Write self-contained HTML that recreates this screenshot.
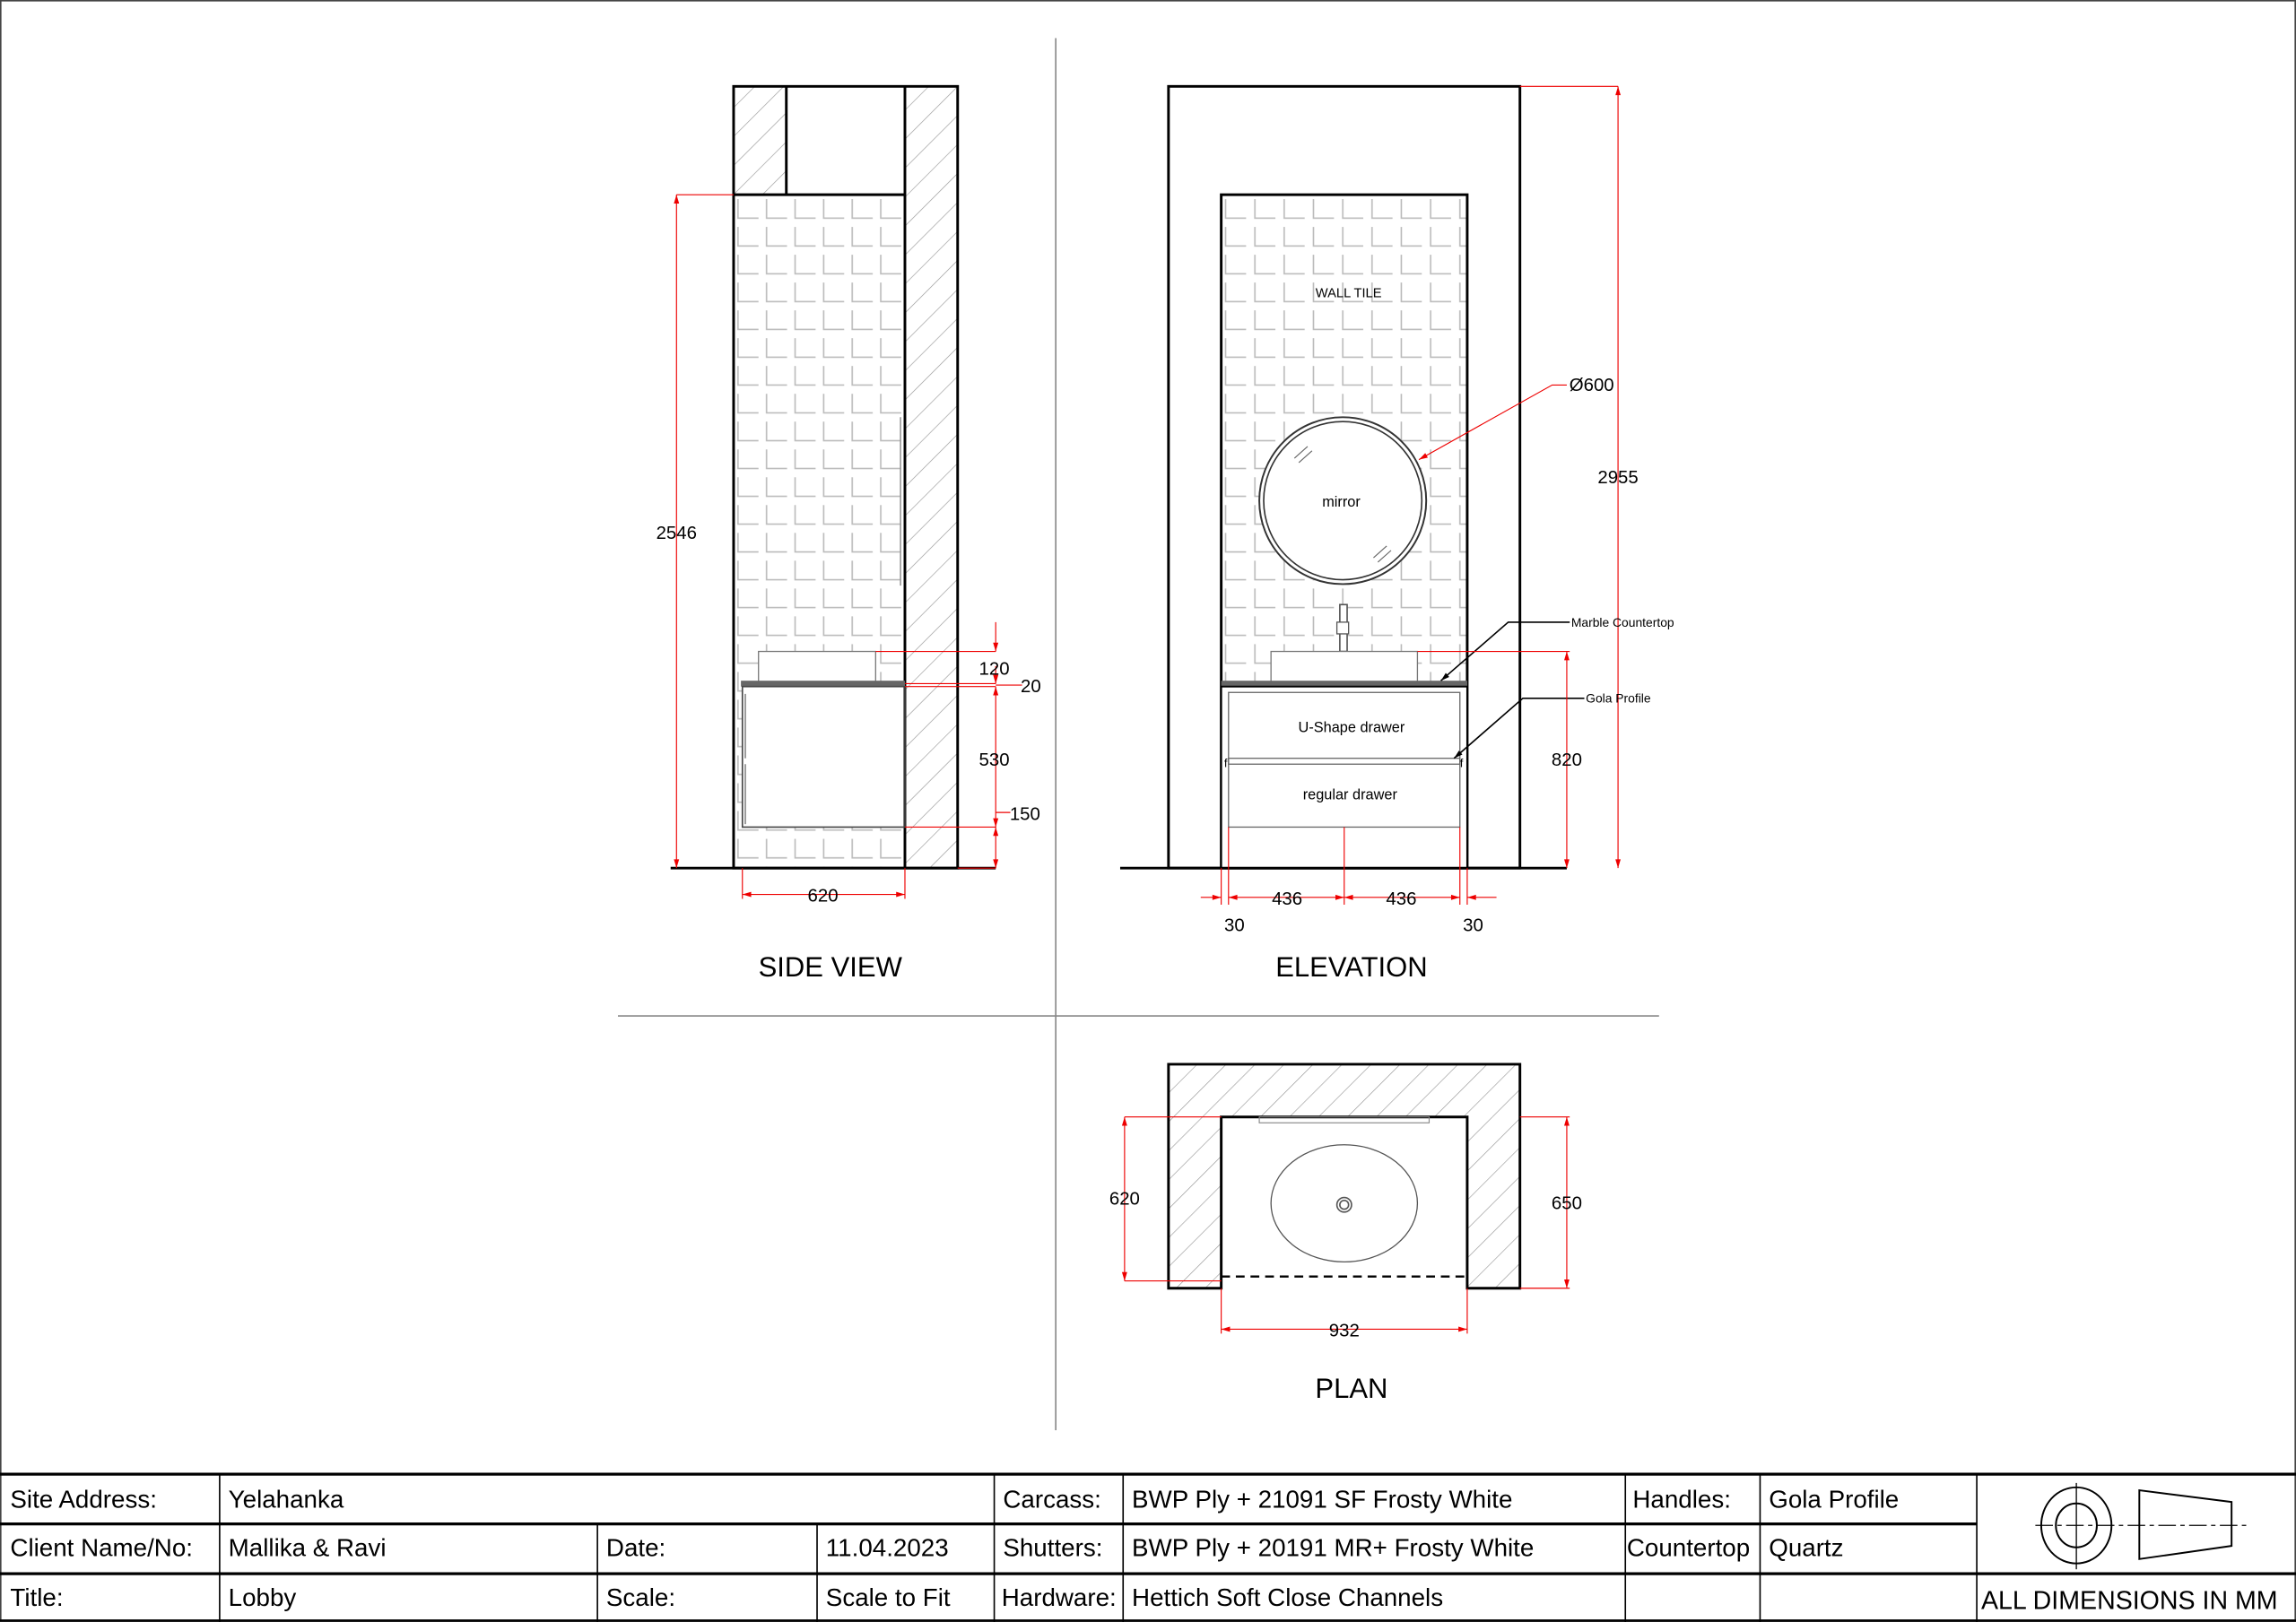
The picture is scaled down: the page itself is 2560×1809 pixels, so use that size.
<!DOCTYPE html>
<html><head><meta charset="utf-8"><style>
html,body{margin:0;padding:0;background:#fff}
svg{display:block}
text{font-family:"Liberation Sans",Arial,sans-serif}
</style></head><body>
<svg width="2560" height="1809" viewBox="0 0 1568 1108" preserveAspectRatio="none" xmlns="http://www.w3.org/2000/svg">
<defs>
<pattern id="hatch" width="14" height="14" patternUnits="userSpaceOnUse" patternTransform="rotate(45)">
<line x1="0" y1="0" x2="0" y2="14" stroke="#999" stroke-width="0.8"/>
</pattern>
<pattern id="tile" x="501" y="133" width="19.5" height="19" patternUnits="userSpaceOnUse">
<path d="M3 3 V16 H17" fill="none" stroke="#bbb" stroke-width="1"/>
</pattern>
<pattern id="tile2" x="834" y="133" width="20" height="19" patternUnits="userSpaceOnUse">
<path d="M3 3 V16 H17" fill="none" stroke="#bbb" stroke-width="1"/>
</pattern>
<marker id="ar" viewBox="0 0 10 10" refX="10" refY="5" markerWidth="10" markerHeight="6" markerUnits="userSpaceOnUse" orient="auto-start-reverse"><path d="M0 2 L10 5 L0 8z" fill="#e00"/></marker>
<marker id="ak" viewBox="0 0 10 10" refX="10" refY="5" markerWidth="10" markerHeight="6" markerUnits="userSpaceOnUse" orient="auto"><path d="M0 2 L10 5 L0 8z" fill="#000"/></marker>
</defs>
<rect x="0.5" y="0.5" width="1567" height="1107" fill="none" stroke="#444" stroke-width="1"/>

<line x1="721" y1="26" x2="721" y2="977" stroke="#888" stroke-width="1"/>
<line x1="422" y1="694" x2="1133" y2="694" stroke="#888" stroke-width="1"/>

<!-- SIDE VIEW -->
<rect x="501" y="59" width="36" height="74" fill="url(#hatch)"/>
<rect x="618" y="59" width="36" height="534" fill="url(#hatch)"/>
<rect x="501" y="133" width="117" height="460" fill="url(#tile)"/>
<rect x="507" y="469" width="111" height="96" fill="#fff"/>
<rect x="501" y="59" width="153" height="534" fill="none" stroke="#000" stroke-width="1.8"/>
<line x1="537" y1="59" x2="537" y2="133" stroke="#000" stroke-width="1.8"/>
<line x1="501" y1="133" x2="618" y2="133" stroke="#000" stroke-width="1.8"/>
<line x1="618" y1="59" x2="618" y2="593" stroke="#000" stroke-width="1.8"/>
<line x1="615" y1="285" x2="615" y2="400" stroke="#999" stroke-width="1"/>
<rect x="518" y="445" width="80" height="22" fill="#fff" stroke="#777" stroke-width="0.8"/>
<rect x="506" y="465" width="112" height="4" fill="#666"/>
<rect x="507" y="469" width="111" height="96" fill="none" stroke="#444" stroke-width="1"/>
<line x1="509" y1="474" x2="509" y2="518" stroke="#888"/><line x1="509" y1="522" x2="509" y2="563" stroke="#888"/>
<line x1="458" y1="593" x2="680" y2="593" stroke="#000" stroke-width="1.8"/>
<g stroke="#e00" stroke-width="0.7" fill="none">
<line x1="462" y1="133" x2="501" y2="133"/>
<line x1="462" y1="133" x2="462" y2="593" marker-start="url(#ar)" marker-end="url(#ar)"/>
<line x1="598" y1="445" x2="680" y2="445"/><line x1="618" y1="467" x2="680" y2="467"/><line x1="618" y1="469" x2="680" y2="469"/><line x1="618" y1="565" x2="680" y2="565"/><line x1="654" y1="593" x2="680" y2="593"/>
<line x1="680" y1="425" x2="680" y2="445" marker-end="url(#ar)"/>
<line x1="680" y1="469" x2="680" y2="565" marker-start="url(#ar)" marker-end="url(#ar)"/>
<line x1="680" y1="565" x2="680" y2="593" marker-start="url(#ar)" marker-end="url(#ar)"/>
<line x1="680" y1="455" x2="680" y2="467" marker-end="url(#ar)"/>
<line x1="507" y1="593" x2="507" y2="614"/><line x1="618" y1="593" x2="618" y2="614"/>
<line x1="507" y1="611" x2="618" y2="611" marker-start="url(#ar)" marker-end="url(#ar)"/>
<line x1="680" y1="468" x2="698" y2="468"/><line x1="680" y1="555" x2="690" y2="555"/>
</g>
<g font-size="12.5" fill="#000">
<text x="462" y="368" text-anchor="middle">2546</text>
<text x="679" y="461" text-anchor="middle">120</text>
<text x="704" y="473" text-anchor="middle">20</text>
<text x="679" y="523" text-anchor="middle">530</text>
<text x="700" y="560" text-anchor="middle">150</text>
<text x="562" y="616" text-anchor="middle">620</text>
</g>
<text x="567" y="667" font-size="19" text-anchor="middle">SIDE VIEW</text>

<!-- ELEVATION -->
<rect x="834" y="133" width="168" height="460" fill="url(#tile2)"/>
<rect x="798" y="59" width="240" height="534" fill="none" stroke="#000" stroke-width="1.8"/>
<rect x="834" y="133" width="168" height="460" fill="none" stroke="#000" stroke-width="1.8"/>
<circle cx="917" cy="342" r="57" fill="#fff" stroke="#333" stroke-width="1.2"/>
<circle cx="917" cy="342" r="54" fill="none" stroke="#333" stroke-width="1"/>
<g stroke="#666" stroke-width="0.7"><line x1="884" y1="313" x2="893" y2="305"/><line x1="887" y1="316" x2="896" y2="308"/><line x1="938" y1="381" x2="947" y2="373"/><line x1="941" y1="384" x2="950" y2="376"/></g>
<text x="916" y="346" font-size="10" text-anchor="middle">mirror</text>
<text x="921" y="203" font-size="9" text-anchor="middle">WALL TILE</text>
<rect x="915" y="413" width="5" height="32" fill="#fff" stroke="#555"/>
<rect x="913" y="425" width="8" height="8" fill="#fff" stroke="#555" stroke-width="0.8"/>
<rect x="868" y="445" width="100" height="21" fill="#fff" stroke="#777" stroke-width="0.8"/>
<rect x="834" y="465" width="168" height="4" fill="#666"/>
<rect x="834" y="469" width="168" height="124" fill="#fff" stroke="#000" stroke-width="1.2"/>
<rect x="839" y="473" width="158" height="92" fill="none" stroke="#666" stroke-width="0.8"/>
<rect x="839" y="518" width="158" height="4" fill="none" stroke="#666" stroke-width="0.8"/>
<text x="923" y="500" font-size="10" text-anchor="middle">U-Shape drawer</text>
<text x="922" y="546" font-size="10" text-anchor="middle">regular drawer</text>
<text x="836" y="524" font-size="8">f</text><text x="997" y="524" font-size="8">f</text>
<line x1="765" y1="593" x2="1070" y2="593" stroke="#000" stroke-width="1.8"/>
<g stroke="#000" stroke-width="1" fill="none">
<polyline points="1072,425 1030,425 984,465" marker-end="url(#ak)"/>
<polyline points="1082,477 1040,477 993,518" marker-end="url(#ak)"/>
</g>
<g stroke="#e00" stroke-width="0.7" fill="none">
<line x1="1038" y1="59" x2="1105" y2="59"/>
<line x1="1105" y1="59" x2="1105" y2="593" marker-start="url(#ar)" marker-end="url(#ar)"/>
<line x1="968" y1="445" x2="1072" y2="445"/>
<line x1="1070" y1="445" x2="1070" y2="593" marker-start="url(#ar)" marker-end="url(#ar)"/>
<polyline points="1070,263 1060,263 969,314" marker-end="url(#ar)"/>
<line x1="839" y1="565" x2="839" y2="618"/><line x1="997" y1="565" x2="997" y2="618"/><line x1="918" y1="565" x2="918" y2="618"/>
<line x1="834" y1="593" x2="834" y2="618"/><line x1="1002" y1="593" x2="1002" y2="618"/>
<line x1="820" y1="613" x2="834" y2="613" marker-end="url(#ar)"/>
<line x1="839" y1="613" x2="918" y2="613" marker-start="url(#ar)" marker-end="url(#ar)"/>
<line x1="918" y1="613" x2="997" y2="613" marker-start="url(#ar)" marker-end="url(#ar)"/>
<line x1="1022" y1="613" x2="1002" y2="613" marker-end="url(#ar)"/>
</g>
<g font-size="12.5" fill="#000">
<text x="1087" y="267" text-anchor="middle">Ø600</text>
<text x="1105" y="330" text-anchor="middle">2955</text>
<text x="1070" y="523" text-anchor="middle">820</text>
<text x="879" y="618" text-anchor="middle">436</text>
<text x="957" y="618" text-anchor="middle">436</text>
<text x="843" y="636" text-anchor="middle">30</text>
<text x="1006" y="636" text-anchor="middle">30</text>
</g>
<text x="1073" y="428" font-size="8.5">Marble Countertop</text>
<text x="1083" y="480" font-size="8.5">Gola Profile</text>
<text x="923" y="667" font-size="19" text-anchor="middle">ELEVATION</text>

<!-- PLAN -->
<rect x="798" y="727" width="240" height="36" fill="url(#hatch)"/>
<rect x="798" y="763" width="36" height="117" fill="url(#hatch)"/>
<rect x="1002" y="763" width="36" height="117" fill="url(#hatch)"/>
<path d="M798 727 H1038 V880 H1002 V763 H834 V880 H798 Z" fill="none" stroke="#000" stroke-width="1.8"/>
<line x1="834" y1="872" x2="1002" y2="872" stroke="#000" stroke-width="1.5" stroke-dasharray="6,4"/>
<rect x="860" y="763" width="116" height="4" fill="none" stroke="#888" stroke-width="0.7"/>
<ellipse cx="918" cy="822" rx="50" ry="40" fill="none" stroke="#555" stroke-width="0.8"/>
<circle cx="918" cy="823" r="5" fill="none" stroke="#555"/><circle cx="918" cy="823" r="3" fill="none" stroke="#555"/>
<g stroke="#e00" stroke-width="0.7" fill="none">
<line x1="768" y1="763" x2="834" y2="763"/><line x1="768" y1="875" x2="834" y2="875"/>
<line x1="768" y1="763" x2="768" y2="875" marker-start="url(#ar)" marker-end="url(#ar)"/>
<line x1="1038" y1="763" x2="1072" y2="763"/><line x1="1038" y1="880" x2="1072" y2="880"/>
<line x1="1070" y1="763" x2="1070" y2="880" marker-start="url(#ar)" marker-end="url(#ar)"/>
<line x1="834" y1="880" x2="834" y2="911"/><line x1="1002" y1="880" x2="1002" y2="911"/>
<line x1="834" y1="908" x2="1002" y2="908" marker-start="url(#ar)" marker-end="url(#ar)"/>
</g>
<g font-size="12.5"><text x="768" y="823" text-anchor="middle">620</text><text x="1070" y="826" text-anchor="middle">650</text><text x="918" y="913" text-anchor="middle">932</text></g>
<text x="923" y="955" font-size="19" text-anchor="middle">PLAN</text>

<!-- TITLE BLOCK -->
<g stroke="#000" fill="none">
<line x1="0" y1="1007" x2="1568" y2="1007" stroke-width="2"/>
<line x1="0" y1="1041" x2="1350" y2="1041" stroke-width="2"/>
<line x1="0" y1="1075" x2="1568" y2="1075" stroke-width="2"/>
<line x1="0" y1="1107" x2="1568" y2="1107" stroke-width="1.5"/>
<g stroke-width="1">
<line x1="150" y1="1007" x2="150" y2="1108"/>
<line x1="408" y1="1041" x2="408" y2="1108"/>
<line x1="558" y1="1041" x2="558" y2="1108"/>
<line x1="679" y1="1007" x2="679" y2="1108"/>
<line x1="767" y1="1007" x2="767" y2="1108"/>
<line x1="1110" y1="1007" x2="1110" y2="1108"/>
<line x1="1202" y1="1007" x2="1202" y2="1108"/>
<line x1="1350" y1="1007" x2="1350" y2="1108"/>
</g>
<ellipse cx="1418" cy="1042" rx="24" ry="26" stroke-width="1.2"/>
<ellipse cx="1418" cy="1042" rx="14" ry="15" stroke-width="1.2"/>
<line x1="1390" y1="1042" x2="1535" y2="1042" stroke-width="0.8" stroke-dasharray="12,3,3,3"/>
<line x1="1418" y1="1013" x2="1418" y2="1072" stroke-width="0.8"/>
<path d="M1461 1018 L1524 1026 V1056 L1461 1065 Z" stroke-width="1.2"/>
</g>
<g font-size="17" fill="#000">
<text x="7" y="1030">Site Address:</text><text x="156" y="1030">Yelahanka</text>
<text x="685" y="1030">Carcass:</text><text x="773" y="1030">BWP Ply + 21091 SF Frosty White</text>
<text x="1115" y="1030">Handles:</text><text x="1208" y="1030">Gola Profile</text>
<text x="7" y="1063">Client Name/No:</text><text x="156" y="1063">Mallika &amp; Ravi</text>
<text x="414" y="1063">Date:</text><text x="564" y="1063">11.04.2023</text>
<text x="685" y="1063">Shutters:</text><text x="773" y="1063">BWP Ply + 20191 MR+ Frosty White</text>
<text x="1111" y="1063">Countertop</text><text x="1208" y="1063">Quartz</text>
<text x="7" y="1097">Title:</text><text x="156" y="1097">Lobby</text>
<text x="414" y="1097">Scale:</text><text x="564" y="1097">Scale to Fit</text>
<text x="684" y="1097">Hardware:</text><text x="773" y="1097">Hettich Soft Close Channels</text>
<text x="1353" y="1099" font-size="17.5">ALL DIMENSIONS IN MM</text>
</g>
</svg>
</body></html>
